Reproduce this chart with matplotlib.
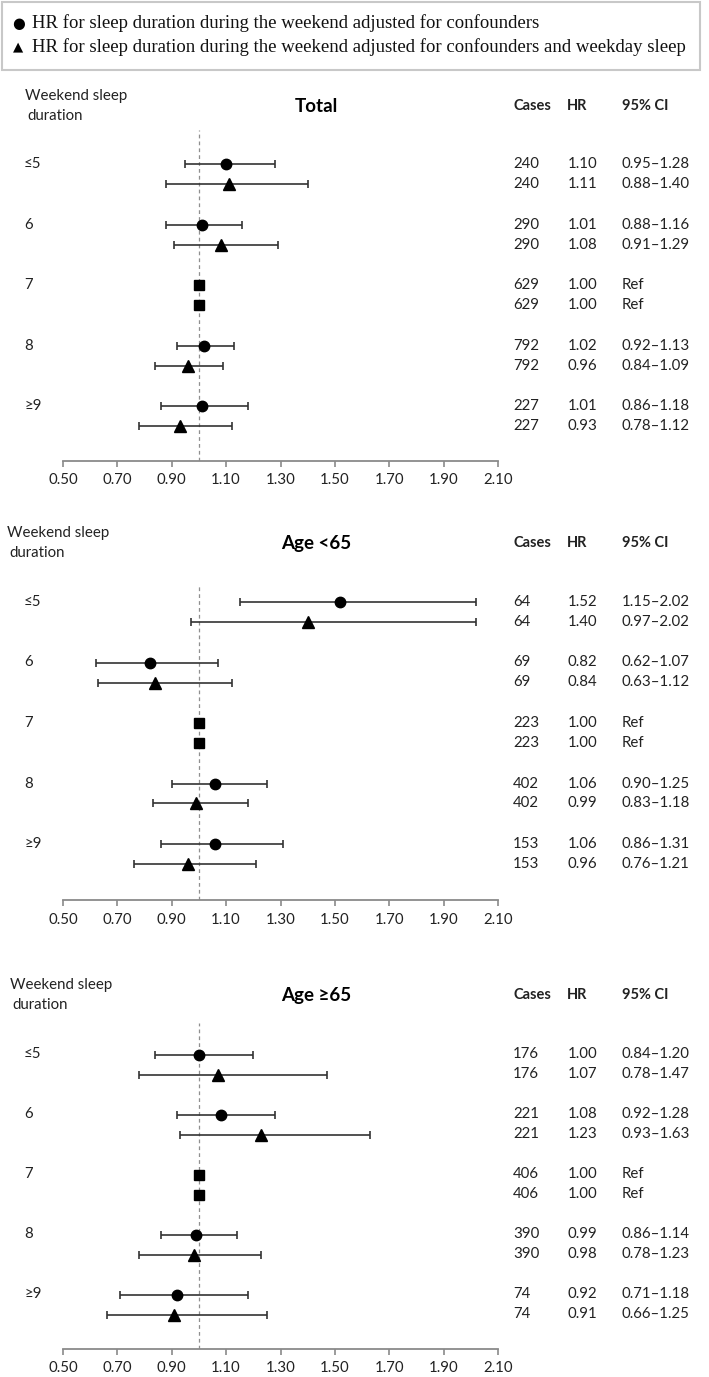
import matplotlib
matplotlib.use("Agg")
import matplotlib.pyplot as plt
from matplotlib.transforms import blended_transform_factory
from matplotlib.patches import Rectangle

# ---------------- data ----------------
categories = ["≤5", "6", "7", "8", "≥9"]
panel_titles = ["Total", "Age <65", "Age ≥65"]

total_cases = [240, 290, 629, 792, 227]
total_hr1 = [1.10, 1.01, 1.00, 1.02, 1.01]
total_lo1 = [0.95, 0.88, None, 0.92, 0.86]
total_hi1 = [1.28, 1.16, None, 1.13, 1.18]
total_hr2 = [1.11, 1.08, 1.00, 0.96, 0.93]
total_lo2 = [0.88, 0.91, None, 0.84, 0.78]
total_hi2 = [1.40, 1.29, None, 1.09, 1.12]

young_cases = [64, 69, 223, 402, 153]
young_hr1 = [1.52, 0.82, 1.00, 1.06, 1.06]
young_lo1 = [1.15, 0.62, None, 0.90, 0.86]
young_hi1 = [2.02, 1.07, None, 1.25, 1.31]
young_hr2 = [1.40, 0.84, 1.00, 0.99, 0.96]
young_lo2 = [0.97, 0.63, None, 0.83, 0.76]
young_hi2 = [2.02, 1.12, None, 1.18, 1.21]

old_cases = [176, 221, 406, 390, 74]
old_hr1 = [1.00, 1.08, 1.00, 0.99, 0.92]
old_lo1 = [0.84, 0.92, None, 0.86, 0.71]
old_hi1 = [1.20, 1.28, None, 1.14, 1.18]
old_hr2 = [1.07, 1.23, 1.00, 0.98, 0.91]
old_lo2 = [0.78, 0.93, None, 0.78, 0.66]
old_hi2 = [1.47, 1.63, None, 1.23, 1.25]

xticks = [0.50, 0.70, 0.90, 1.10, 1.30, 1.50, 1.70, 1.90, 2.10]
ref_index = 2

panels = [
    (total_cases, total_hr1, total_lo1, total_hi1, total_hr2, total_lo2, total_hi2),
    (young_cases, young_hr1, young_lo1, young_hi1, young_hr2, young_lo2, young_hi2),
    (old_cases, old_hr1, old_lo1, old_hi1, old_hr2, old_lo2, old_hi2),
]

# ---------------- layout ----------------
W, H = 709, 1377
plt.rcParams['font.family'] = ['Lato', 'DejaVu Sans']
fig = plt.figure(figsize=(W / 100, H / 100), dpi=100)

def fx(px):
    return px / W

def fy(py):
    return 1 - py / H

# legend box
fig.patches.append(Rectangle((fx(2), fy(70)), fx(698), 68 / H, transform=fig.transFigure,
                             fill=False, edgecolor="#c8c8c8", linewidth=1.5))
serif = ['Liberation Serif', 'DejaVu Serif']
fig.text(fx(12), fy(23), "●", fontsize=10.5, va="center", ha="left", family=['DejaVu Sans'])
fig.text(fx(32), fy(23), "HR for sleep duration during the weekend adjusted for confounders",
         fontsize=13.5, va="center", ha="left", family=serif, color="#111111")
fig.text(fx(13), fy(47), "▲", fontsize=9.5, va="center", ha="left", family=['DejaVu Sans'])
fig.text(fx(32), fy(47),
         "HR for sleep duration during the weekend adjusted for confounders and weekday sleep",
         fontsize=13.5, va="center", ha="left", family=serif, color="#111111")

# per panel: axes top px, axis-line px, first row centre px, last row centre px,
#            header y px, header label x px
panel_geom = [
    (130, 461, 174, 416.5, 106, 25),
    (585, 900, 612, 854, 543, 7),
    (1023, 1349, 1064.5, 1304.5, 995, 10),
]

x_left, x_right = 63, 498
gray = "#8a8a8a"
dark = "#222222"
fs = 10.8

for (cases, hr1, lo1, hi1, hr2, lo2, hi2), (top, bot, r0, r4, hy, hx), title in zip(panels, panel_geom, panel_titles):
    n = len(categories)
    step = (r4 - r0) / (n - 1)
    off = 10 / step
    ax = fig.add_axes([fx(x_left), fy(bot), fx(x_right - x_left), (bot - top) / H])
    ax.set_xlim(xticks[0], xticks[-1])
    ax.set_ylim((n - 1) + (bot - r4) / step, -(r0 - top) / step)
    for s in ["top", "right", "left"]:
        ax.spines[s].set_visible(False)
    ax.spines["bottom"].set_color(gray)
    ax.spines["bottom"].set_linewidth(1.3)
    ax.set_yticks([])
    ax.set_xticks(xticks)
    ax.set_xticklabels([f"{t:.2f}" for t in xticks], fontsize=fs, color=dark)
    ax.tick_params(axis="x", direction="out", length=4, width=1.2, color=gray, pad=5)
    ax.axvline(1.0, color="#8f8f8f", linestyle=(0, (3, 2.5)), linewidth=0.9, zorder=0)
    ax.patch.set_alpha(0)

    for i in range(n):
        y1, y2 = i - off, i + off
        if i == ref_index:
            ax.plot([hr1[i]], [y1], marker="s", color="black", markersize=7, linestyle="none", clip_on=False)
            ax.plot([hr2[i]], [y2], marker="s", color="black", markersize=7, linestyle="none", clip_on=False)
        else:
            ax.errorbar([hr1[i]], [y1], xerr=[[hr1[i] - lo1[i]], [hi1[i] - hr1[i]]], fmt="o",
                        color="black", ecolor="#333333", elinewidth=1.2, capsize=3, capthick=1.2,
                        markersize=7.5, clip_on=False)
            ax.errorbar([hr2[i]], [y2], xerr=[[hr2[i] - lo2[i]], [hi2[i] - hr2[i]]], fmt="^",
                        color="black", ecolor="#333333", elinewidth=1.2, capsize=3, capthick=1.2,
                        markersize=8, clip_on=False)

    tr = blended_transform_factory(fig.transFigure, ax.transData)
    for i in range(n):
        y1, y2 = i - off, i + off
        ax.text(fx(24), y1, categories[i], transform=tr, fontsize=fs, va="center", ha="left", color=dark)
        for y, hr, lo, hi in [(y1, hr1[i], lo1[i], hi1[i]), (y2, hr2[i], lo2[i], hi2[i])]:
            ax.text(fx(513), y, f"{cases[i]}", transform=tr, fontsize=fs, va="center", ha="left", color=dark)
            ax.text(fx(568), y, f"{hr:.2f}", transform=tr, fontsize=fs, va="center", ha="left", color=dark)
            ci = "Ref" if lo is None else f"{lo:.2f}\u2013{hi:.2f}"
            ax.text(fx(622), y, ci, transform=tr, fontsize=fs, va="center", ha="left", color=dark)

    # header
    fig.text(fx(hx), fy(hy - 10), "Weekend sleep", fontsize=fs, va="center", ha="left", color=dark)
    fig.text(fx(hx + 2), fy(hy + 10), "duration", fontsize=fs, va="center", ha="left", color=dark)
    fig.text(fx(316), fy(hy), title, fontsize=13.5, fontweight="bold", va="center", ha="center", color="black")
    fig.text(fx(513), fy(hy), "Cases", fontsize=10.5, fontweight="bold", va="center", ha="left", color=dark)
    fig.text(fx(567), fy(hy), "HR", fontsize=10.5, fontweight="bold", va="center", ha="left", color=dark)
    fig.text(fx(622), fy(hy), "95% CI", fontsize=10.5, fontweight="bold", va="center", ha="left", color=dark)

fig.savefig("out.png", dpi=100, facecolor="white")
